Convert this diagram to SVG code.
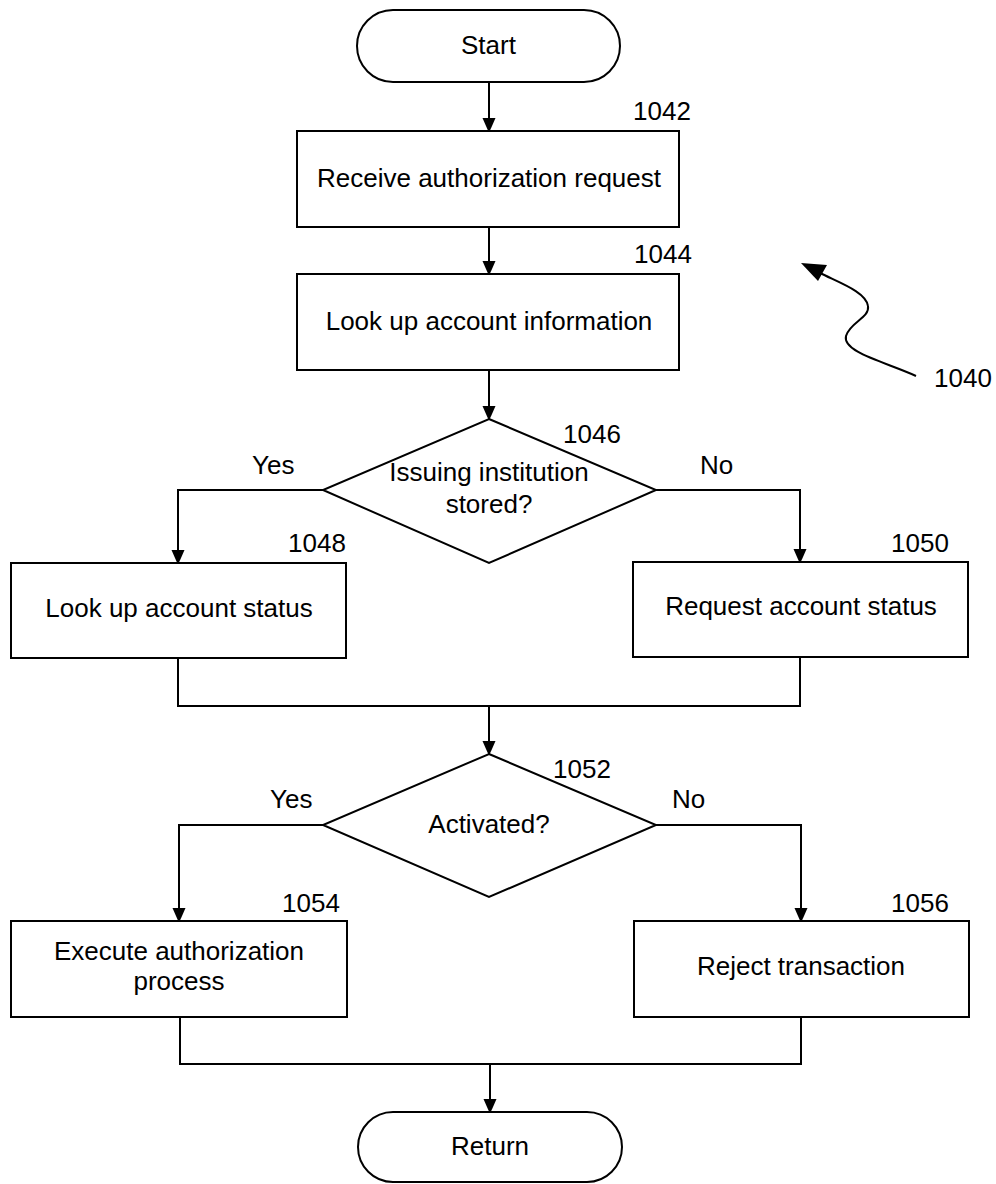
<svg xmlns="http://www.w3.org/2000/svg" width="996" height="1184" viewBox="0 0 996 1184">
<defs>
<marker id="ah" markerWidth="15" markerHeight="17" refX="15" refY="7.5" orient="auto" markerUnits="userSpaceOnUse" viewBox="0 0 17 15">
<path d="M0,0 L17,7.5 L0,15 Z" fill="#000"/>
</marker>
</defs>
<style>
.s{fill:#fff;stroke:#000;stroke-width:2}
.c{fill:none;stroke:#000;stroke-width:2}
.t{font-family:"Liberation Sans",Arial,sans-serif;font-size:26px;fill:#000}
.m{text-anchor:middle}
</style>
<rect width="996" height="1184" fill="#fff"/>
<g id="connectors">
<path class="c" d="M489,82 V131" marker-end="url(#ah)"/>
<path class="c" d="M489,227 V274" marker-end="url(#ah)"/>
<path class="c" d="M489,370 V419" marker-end="url(#ah)"/>
<path class="c" d="M323,490 H178 V563" marker-end="url(#ah)"/>
<path class="c" d="M656,490 H800 V562" marker-end="url(#ah)"/>
<path class="c" d="M178,658 V706 H800 V657"/>
<path class="c" d="M489,706 V754" marker-end="url(#ah)"/>
<path class="c" d="M323,825 H179 V921" marker-end="url(#ah)"/>
<path class="c" d="M656,825 H801 V921" marker-end="url(#ah)"/>
<path class="c" d="M180,1017 V1064 H801 V1017"/>
<path class="c" d="M490,1064 V1112" marker-end="url(#ah)"/>
<text class="t" x="252" y="474">Yes</text>
<text class="t" x="700" y="474">No</text>
<text class="t" x="270" y="808">Yes</text>
<text class="t" x="672" y="808">No</text>
</g>
<g id="start">
<rect class="s" x="357" y="10" width="263" height="72" rx="36" ry="36"/>
<text class="t m" x="488.5" y="54">Start</text>
</g>
<g id="n1042">
<rect class="s" x="297" y="131" width="382" height="96"/>
<text class="t m" x="489" y="187">Receive authorization request</text>
<text class="t" x="633" y="120">1042</text>
</g>
<g id="n1044">
<rect class="s" x="297" y="274" width="382" height="96"/>
<text class="t m" x="489" y="330">Look up account information</text>
<text class="t" x="634" y="263">1044</text>
</g>
<g id="n1046">
<polygon class="s" points="489,419 656,490 489,563 323,490"/>
<text class="t m" x="489" y="481">Issuing institution</text>
<text class="t m" x="489" y="513">stored?</text>
<text class="t" x="563" y="443">1046</text>
</g>
<g id="n1048">
<rect class="s" x="11" y="563" width="335" height="95"/>
<text class="t m" x="179" y="617">Look up account status</text>
<text class="t" x="288" y="552">1048</text>
</g>
<g id="n1050">
<rect class="s" x="633" y="562" width="335" height="95"/>
<text class="t m" x="801" y="615">Request account status</text>
<text class="t" x="891" y="552">1050</text>
</g>
<g id="n1052">
<polygon class="s" points="489,754 656,825 489,897 323,825"/>
<text class="t m" x="489" y="833">Activated?</text>
<text class="t" x="553" y="778">1052</text>
</g>
<g id="n1054">
<rect class="s" x="11" y="921" width="336" height="96"/>
<text class="t m" x="179" y="960">Execute authorization</text>
<text class="t m" x="179" y="990">process</text>
<text class="t" x="282" y="912">1054</text>
</g>
<g id="n1056">
<rect class="s" x="634" y="921" width="335" height="96"/>
<text class="t m" x="801" y="975">Reject transaction</text>
<text class="t" x="891" y="912">1056</text>
</g>
<g id="return">
<rect class="s" x="358" y="1112" width="264" height="70" rx="35" ry="35"/>
<text class="t m" x="490" y="1155">Return</text>
</g>
<g id="ref1040">
<path class="c" d="M916,376 C885,362 842,352 846,336 C850,322 870,318 868,306 C866,292 840,283 820,273"/>
<polygon points="801,263 827,265 818,281" fill="#000"/>
<text class="t" x="934" y="387">1040</text>
</g>
</svg>
